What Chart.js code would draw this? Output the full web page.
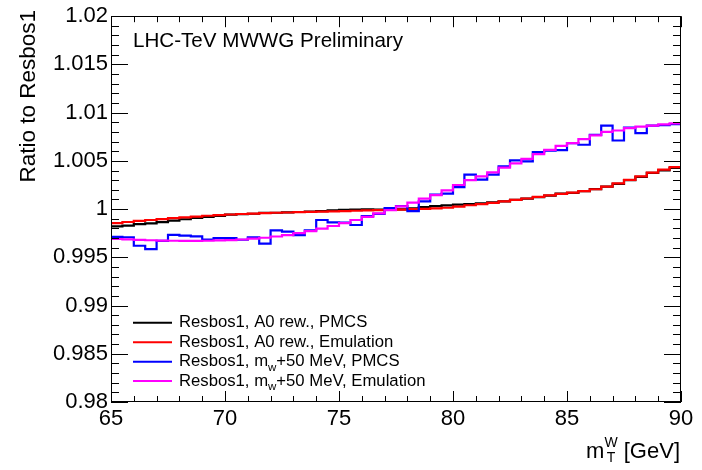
<!DOCTYPE html>
<html><head><meta charset="utf-8">
<script src="https://cdn.jsdelivr.net/npm/chart.js@4.4.1/dist/chart.umd.min.js"></script>
<style>html,body{margin:0;padding:0;background:#fff}</style>
</head><body>
<canvas id="c" width="702" height="470"></canvas>
<script>
// Bin edges of the m_T^W histogram (GeV)
const binEdges = [65,65.5,66,66.5,67,67.5,68,68.5,69,69.5,70,70.5,71,71.5,72,72.5,73,73.5,74,74.5,
  75,75.5,76,76.5,77,77.5,78,78.5,79,79.5,80,80.5,81,81.5,82,82.5,83,83.5,84,84.5,
  85,85.5,86,86.5,87,87.5,88,88.5,89,89.5,90];

// Resbos1, A0 rew., PMCS (black)
const a0PMCS = [0.99820,0.99828,0.99845,0.99852,0.99865,0.99880,0.99895,0.99908,0.99920,0.99930,
  0.99942,0.99948,0.99952,0.99960,0.99962,0.99966,0.99970,0.99974,0.99980,0.99988,
  0.99992,0.99996,0.99998,0.99996,0.99995,0.99998,1.00008,1.00020,1.00030,1.00038,
  1.00046,1.00052,1.00060,1.00070,1.00080,1.00095,1.00108,1.00125,1.00140,1.00160,
  1.00168,1.00185,1.00208,1.00232,1.00262,1.00300,1.00335,1.00375,1.00402,1.00428];

// Resbos1, A0 rew., Emulation (red)
const a0Emul = [0.99855,0.99866,0.99877,0.99887,0.99897,0.99906,0.99915,0.99923,0.99931,0.99938,
  0.99944,0.99949,0.99954,0.99958,0.99962,0.99965,0.99968,0.99971,0.99974,0.99977,
  0.99980,0.99983,0.99986,0.99989,0.99992,0.99995,0.99999,1.00003,1.00008,1.00014,
  1.00025,1.00040,1.00052,1.00065,1.00080,1.00095,1.00110,1.00126,1.00142,1.00158,
  1.00170,1.00186,1.00206,1.00234,1.00267,1.00303,1.00340,1.00378,1.00410,1.00436];

// Resbos1, m_w+50 MeV, PMCS (blue)
const mwPMCS = [0.99712,0.99708,0.99620,0.99585,0.99670,0.99732,0.99724,0.99718,0.99685,0.99700,
  0.99700,0.99682,0.99708,0.99642,0.99780,0.99766,0.99730,0.99780,0.99887,0.99862,
  0.99859,0.99835,0.99928,0.99950,1.00010,1.00030,0.99980,1.00080,1.00150,1.00160,
  1.00227,1.00357,1.00306,1.00357,1.00443,1.00505,1.00495,1.00591,1.00605,1.00612,
  1.00684,1.00667,1.00770,1.00866,1.00711,1.00845,1.00787,1.00866,1.00870,1.00880];

// Resbos1, m_w+50 MeV, Emulation (magenta)
const mwEmul = [0.99690,0.99686,0.99681,0.99677,0.99674,0.99672,0.99671,0.99671,0.99672,0.99675,
  0.99679,0.99685,0.99693,0.99703,0.99716,0.99731,0.99750,0.99772,0.99797,0.99825,
  0.99855,0.99887,0.99920,0.99955,0.99990,1.00028,1.00068,1.00108,1.00145,1.00195,
  1.00250,1.00300,1.00340,1.00380,1.00430,1.00475,1.00520,1.00570,1.00615,1.00655,
  1.00685,1.00725,1.00765,1.00800,1.00815,1.00840,1.00855,1.00865,1.00878,1.00888];

const xTickLabels = [65,70,75,80,85,90];
const yTickLabels = [0.98,0.985,0.99,0.995,1,1.005,1.01,1.015,1.02];

const seriesNames = [
  ["Resbos1, A0 rew., PMCS"],
  ["Resbos1, A0 rew., Emulation"],
  ["Resbos1, m", "w", "+50 MeV, PMCS"],
  ["Resbos1, m", "w", "+50 MeV, Emulation"]
];
const seriesColors = ["#000000","#ff0000","#0000ff","#ff00ff"];
const titleText = "LHC-TeV MWWG Preliminary";
const yTitle = "Ratio to Resbos1";

const FONT = '"Liberation Sans", Arial, Helvetica, sans-serif';

function toPoints(vals){
  const pts = vals.map((v,i)=>({x:binEdges[i], y:v}));
  pts.push({x:binEdges[vals.length], y:vals[vals.length-1]});
  return pts;
}

const allSeries = [a0PMCS, a0Emul, mwPMCS, mwEmul];
const drawOrder = [3,2,1,0];
const datasets = allSeries.map((s,i)=>({
  label: seriesNames[i].join(''),
  data: toPoints(s),
  borderColor: seriesColors[i],
  borderWidth: 2.2,
  pointRadius: 0,
  stepped: 'before',
  fill: false,
  order: drawOrder[i]
}));

const decor = {
  id: 'decor',
  afterDraw(chart){
    const ctx = chart.ctx;
    const ca = chart.chartArea;
    const xs = chart.scales.x, ys = chart.scales.y;
    ctx.save();
    ctx.strokeStyle = '#000';
    ctx.lineWidth = 1;
    ctx.strokeRect(Math.round(ca.left)+0.5, Math.round(ca.top)+0.5,
      Math.round(ca.right-ca.left)-1, Math.round(ca.bottom-ca.top)-1);
    ctx.beginPath();
    for (let k=0;k<=40;k++){
      const v = 0.98 + k*0.001;
      const py = Math.round(ys.getPixelForValue(v))+0.5;
      const len = (k%5===0)?17:8;
      ctx.moveTo(ca.left, py); ctx.lineTo(ca.left+len, py);
      ctx.moveTo(ca.right, py); ctx.lineTo(ca.right-len, py);
    }
    for (let k=0;k<=25;k++){
      const v = 65 + k;
      const px = Math.round(xs.getPixelForValue(v))+0.5;
      const len = (k%5===0)?11:6;
      ctx.moveTo(px, ca.bottom); ctx.lineTo(px, ca.bottom-len);
      ctx.moveTo(px, ca.top); ctx.lineTo(px, ca.top+len);
    }
    ctx.stroke();

    ctx.fillStyle = '#000';
    ctx.font = '20.6px ' + FONT;
    ctx.textAlign = 'left'; ctx.textBaseline = 'middle';
    ctx.fillText(titleText, ca.left+22, 41);

    const rows = [322.7, 342.3, 361.7, 381];
    for (let i=0;i<4;i++){
      const y = rows[i];
      ctx.strokeStyle = seriesColors[i];
      ctx.lineWidth = 2;
      ctx.beginPath(); ctx.moveTo(133, y); ctx.lineTo(172, y); ctx.stroke();
      let x = 179;
      const parts = seriesNames[i];
      ctx.textBaseline = 'middle';
      ctx.font = '16.7px ' + FONT;
      ctx.fillText(parts[0], x, y);
      x += ctx.measureText(parts[0]).width;
      if (parts.length>1){
        ctx.font = '11.5px ' + FONT;
        ctx.fillText(parts[1], x, y+6);
        x += ctx.measureText(parts[1]).width;
        ctx.font = '16.7px ' + FONT;
        ctx.fillText(parts[2], x, y);
      }
    }

    ctx.save();
    ctx.font = '22.5px ' + FONT;
    ctx.translate(29, 10);
    ctx.rotate(-Math.PI/2);
    ctx.textAlign = 'right'; ctx.textBaseline = 'middle';
    ctx.fillText(yTitle, 0, 0);
    ctx.restore();

    ctx.textBaseline = 'alphabetic';
    ctx.textAlign = 'left';
    const right = 680, base = 458;
    ctx.font = '22px ' + FONT;
    const gev = ' [GeV]';
    const wG = ctx.measureText(gev).width;
    const wM = ctx.measureText('m').width;
    ctx.font = '14px ' + FONT;
    const wW = ctx.measureText('W').width;
    let x0 = right - wG - wW - wM;
    ctx.font = '22px ' + FONT;
    ctx.fillText('m', x0, base);
    ctx.font = '14px ' + FONT;
    ctx.fillText('W', x0+wM, base-11);
    const wT = ctx.measureText('T').width;
    ctx.fillText('T', x0+wM+(wW-wT)/2, base+4);
    ctx.font = '22px ' + FONT;
    ctx.fillText(gev, x0+wM+wW, base);
    ctx.restore();
  }
};

new Chart(document.getElementById('c'), {
  type: 'line',
  data: { datasets },
  options: {
    responsive: false,
    animation: false,
    events: [],
    layout: { padding: { top: 14, right: 21, left: 0, bottom: 0 } },
    plugins: { legend: { display: false }, tooltip: { enabled: false } },
    scales: {
      x: {
        type: 'linear', min: 65, max: 90,
        afterFit(s){ s.height = 68; },
        afterBuildTicks(s){ s.ticks = xTickLabels.map(v=>({value:v})); },
        grid: { display: false, drawTicks: false },
        border: { display: false },
        ticks: { color: '#000', font: { family: FONT, size: 22 }, padding: 4, maxRotation: 0,
          callback: v => String(v) }
      },
      y: {
        type: 'linear', min: 0.98, max: 1.02,
        afterFit(s){ s.width = 111; },
        afterBuildTicks(s){ s.ticks = yTickLabels.map(v=>({value:v})); },
        grid: { display: false, drawTicks: false },
        border: { display: false },
        ticks: { color: '#000', font: { family: FONT, size: 22 }, padding: 3,
          callback: v => String(parseFloat(Number(v).toFixed(4))) }
      }
    }
  },
  plugins: [decor]
});
</script>
</body></html>
